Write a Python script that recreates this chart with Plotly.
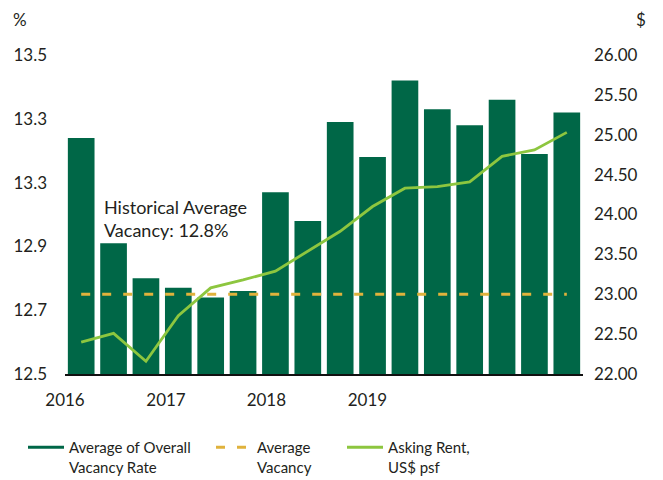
import plotly.graph_objects as go

# ---- data ----
quarters = ["1Q16", "2Q16", "3Q16", "4Q16", "1Q17", "2Q17", "3Q17", "4Q17",
            "1Q18", "2Q18", "3Q18", "4Q18", "1Q19", "2Q19", "3Q19", "4Q19"]
vacancy_rate = [13.24, 12.91, 12.80, 12.77, 12.74, 12.76, 13.07, 12.98,
                13.29, 13.18, 13.42, 13.33, 13.28, 13.36, 13.19, 13.32]
asking_rent = [22.40, 22.51, 22.16, 22.73, 23.08, 23.18, 23.29, 23.54,
               23.79, 24.10, 24.33, 24.35, 24.41, 24.73, 24.81, 25.03]
average_vacancy = 12.75
year_labels = ["2016", "2017", "2018", "2019"]
left_tick_vals = [12.5, 12.7, 12.9, 13.1, 13.3, 13.5]
left_tick_text = ["12.5", "12.7", "12.9", "13.3", "13.3", "13.5"]
right_tick_vals = [22, 22.5, 23, 23.5, 24, 24.5, 25, 25.5, 26]
right_tick_text = ["22.00", "22.50", "23.00", "23.50", "24.00", "24.50", "25.00", "25.50", "26.00"]

DARK = "#006747"
GOLD = "#E0B23C"
LIME = "#8DC63F"
FONT = "Lato"
TXT = "#231F20"

W, H = 655, 472  # page body has an 8px margin inside the 663x480 window

x = list(range(len(quarters)))

fig = go.Figure()
fig.add_trace(go.Bar(x=x, y=vacancy_rate, marker=dict(color=DARK, line=dict(width=0)),
                     showlegend=False, yaxis="y"))
fig.add_trace(go.Scatter(x=[x[0], x[-1]], y=[average_vacancy, average_vacancy], mode="lines",
                         line=dict(color=GOLD, width=2.8, dash="9px,12px"),
                         name="Average<br>Vacancy", legend="legend2", yaxis="y"))
fig.add_trace(go.Scatter(x=x, y=asking_rent, mode="lines",
                         line=dict(color=LIME, width=2.8),
                         name="Asking Rent,<br>US$ psf", legend="legend3", yaxis="y2"))
# legend entry for bars drawn as a line
fig.add_trace(go.Scatter(x=[None], y=[None], mode="lines",
                         line=dict(color=DARK, width=3),
                         name="Average of Overall<br>Vacancy Rate", legend="legend", yaxis="y"))

year_pos = [-0.5, 2.62, 5.72, 8.84]

leg_common = dict(orientation="h", xref="container", yref="container", yanchor="top",
                  xanchor="left", valign="top", font=dict(family=FONT, size=15, color=TXT),
                  bgcolor="rgba(0,0,0,0)", itemwidth=36)

LEG_TOP = 423

fig.update_layout(
    width=W, height=H,
    margin=dict(l=56.5, r=80, t=47, b=106, autoexpand=False),
    paper_bgcolor="white", plot_bgcolor="white",
    bargap=0.176,
    font=dict(family=FONT, size=17, color=TXT),
    xaxis=dict(range=[-0.5, 15.5], tickmode="array", tickvals=year_pos, ticktext=year_labels,
               showgrid=False, zeroline=False, showline=True, linecolor="#111", linewidth=1.5,
               ticks="", tickfont=dict(family=FONT, size=17, color=TXT), ticklabelstandoff=10),
    yaxis=dict(range=[12.5, 13.5], tickmode="array", tickvals=left_tick_vals, ticktext=left_tick_text,
               showgrid=False, zeroline=False, showline=False, ticks="",
               tickfont=dict(family=FONT, size=17, color=TXT), ticklabelstandoff=17),
    yaxis2=dict(range=[22, 26], overlaying="y", side="right", tickmode="array",
                tickvals=right_tick_vals, ticktext=right_tick_text,
                showgrid=False, zeroline=False, showline=False, ticks="",
                tickfont=dict(family=FONT, size=17, color=TXT), ticklabelstandoff=10),
    legend=dict(x=15 / W, y=1 - LEG_TOP / H, **leg_common),
    legend2=dict(x=203 / W, y=1 - LEG_TOP / H, **leg_common),
    legend3=dict(x=334 / W, y=1 - LEG_TOP / H, **leg_common),
    annotations=[
        dict(text="Historical Average<br>Vacancy: 12.8%", xref="paper", yref="paper",
             x=0.0723, y=0.489, xanchor="left", yanchor="middle", align="left", showarrow=False,
             font=dict(family=FONT, size=18, color=TXT)),
        dict(text="%", xref="paper", yref="paper", x=-0.0878, y=1.11, xanchor="center",
             yanchor="middle", showarrow=False, font=dict(family=FONT, size=17, color=TXT)),
        dict(text="$", xref="paper", yref="paper", x=1.112, y=1.11, xanchor="center",
             yanchor="middle", showarrow=False, font=dict(family=FONT, size=17, color=TXT)),
    ],
)

fig.write_html("out.html")
